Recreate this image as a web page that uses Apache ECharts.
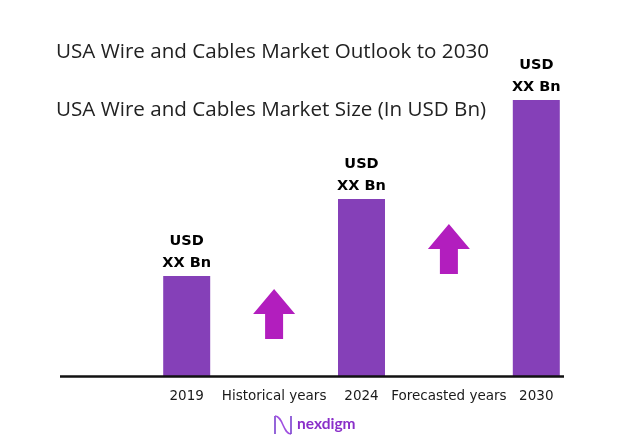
<!DOCTYPE html>
<html><head><meta charset="utf-8">
<script src="https://cdn.jsdelivr.net/npm/echarts@6/dist/echarts.min.js"></script>
<style>html,body{margin:0;padding:0;background:#fff}#c{width:639px;height:444px}</style>
</head><body><div id="c"></div>
<script>
const categories = ['2019', 'Historical years', '2024', 'Forecasted years', '2030'];
const marketSize = [100, null, 177, null, 276];
const barLabels = ['USD\nXX Bn', '', 'USD\nXX Bn', '', 'USD\nXX Bn'];
const arrowLevels = [null, 62, null, 127, null];
const titleText = 'USA Wire and Cables Market Outlook to 2030';
const subtitleText = 'USA Wire and Cables Market Size (In USD Bn)';

const chart = echarts.init(document.getElementById('c'));
const arrowPath = 'path://M21 0 L42 25 L30 25 L30 50 L12 50 L12 25 L0 25 Z';
chart.setOption({
  animation: false,
  backgroundColor: '#fff',
  title: [
    {text: titleText, left: 51, top: 37, textStyle: {fontFamily: 'Open Sans', fontSize: 20.6, fontWeight: 'normal', color: '#222'}},
    {text: subtitleText, left: 51, top: 95, textStyle: {fontFamily: 'Open Sans', fontSize: 20.6, fontWeight: 'normal', color: '#222'}}
  ],
  grid: {left: 143, right: 59, top: 76, bottom: 68},
  xAxis: {
    type: 'category', data: categories,
    axisLine: {show: false}, axisTick: {show: false},
    axisLabel: {fontFamily: 'DejaVu Sans', fontSize: 13.5, color: '#1a1a1a', margin: 13, interval: 0}
  },
  yAxis: {type: 'value', min: 0, max: 300, show: false},
  series: [
    {
      type: 'bar', data: marketSize, barWidth: 47, barGap: '-100%',
      itemStyle: {color: '#8540B8'},
      label: {
        show: true, position: 'top', distance: 2,
        formatter: p => barLabels[p.dataIndex],
        fontFamily: 'DejaVu Sans', fontWeight: 'bold', fontSize: 14.5, lineHeight: 22, color: '#000'
      }
    },
    {
      type: 'scatter', data: arrowLevels, symbol: arrowPath, symbolSize: [42, 50],
      itemStyle: {color: '#B21EBE', opacity: 1}, z: 3
    }
  ],
  graphic: [
    {type: 'line', shape: {x1: 60, y1: 376.5, x2: 564, y2: 376.5}, style: {stroke: '#111', lineWidth: 2.5}, z: 10},
    {type: 'text', x: 297, y: 416, style: {text: 'nexdigm', fontFamily: 'Lato', fontWeight: 'bold', fontSize: 15.5, fill: '#8a2fc9'}},
    {type: 'line', shape: {x1: 275, y1: 416, x2: 275, y2: 434}, style: {stroke: '#7a3fd0', lineWidth: 1.6}},
    {type: 'bezierCurve', shape: {x1: 275, y1: 416, cpx1: 283, cpy1: 416, cpx2: 283, cpy2: 434, x2: 291, y2: 434}, style: {stroke: '#a050e0', fill: null, lineWidth: 1.6}},
    {type: 'line', shape: {x1: 291, y1: 416, x2: 291, y2: 434}, style: {stroke: '#7a3fd0', lineWidth: 1.6}}
  ]
});
</script></body></html>
